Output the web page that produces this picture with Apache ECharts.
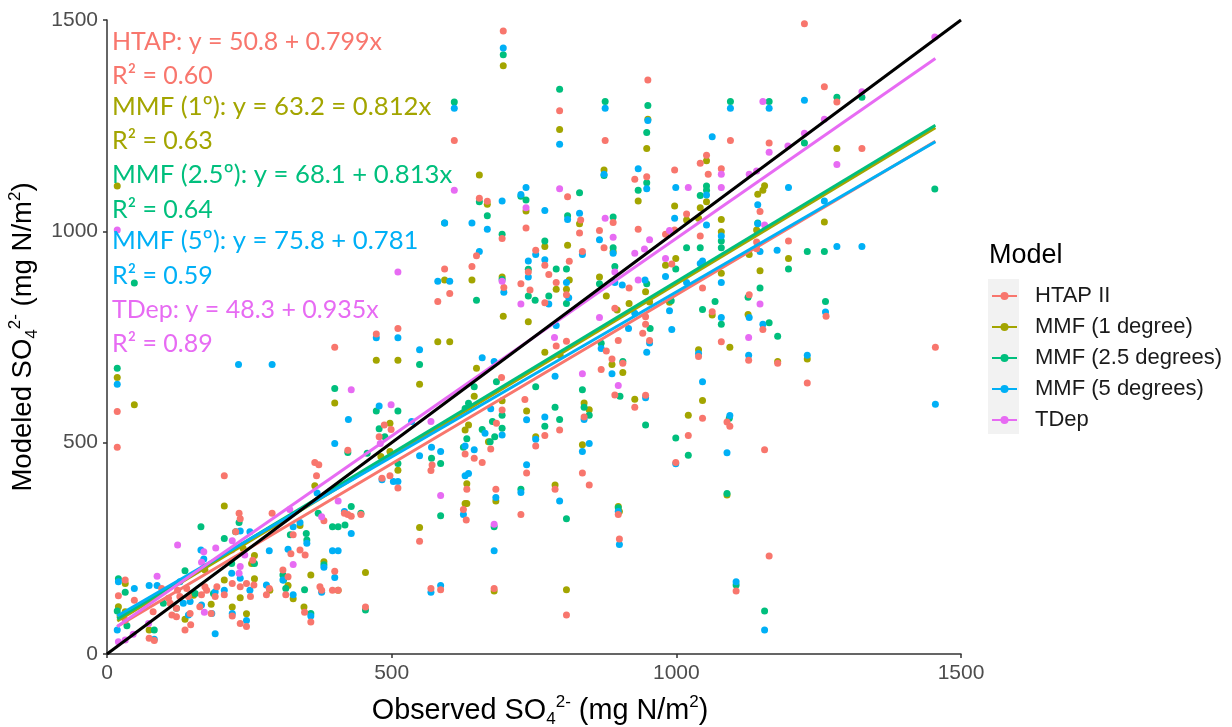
<!DOCTYPE html>
<html>
<head>
<meta charset="utf-8">
<style>html,body{margin:0;padding:0;background:#fff}#c{width:1232px;height:727px}</style>
<script src="https://cdn.jsdelivr.net/npm/echarts@6/dist/echarts.min.js"></script>
</head>
<body>
<div id="c"></div>
<script>
const modelNames = ['HTAP II','MMF (1 degree)','MMF (2.5 degrees)','MMF (5 degrees)','TDep'];
const modelColors = ['#F8766D','#A3A500','#00BF7D','#00B0F6','#E76BF3'];

const htapPoints = [[696,1474],[610,1215],[654,1078],[668,1071],[736,1008],[694,983],[649,942],[641,917],[593,911],[602,853],[581,834],[727,876],[697,867],[740,904],[511,770],[743,861],
[1225,1491],[1260,1342],[1282,1306],[950,1358],[795,1285],[875,1215],[1095,1215],[1163,1209],[1326,1196],[1053,1180],[1042,1161],[997,1145],[1079,1148],[1056,1135],[948,1129],[927,1123],[809,1082],[832,1027],[1018,1041],[889,1021],[933,1005],[865,1002],[830,996],[873,961],[1042,989],[1147,1047],[981,993],[997,1003],[753,955],[835,952],[812,929],[769,920],[992,923],[1197,977],[1141,975],[1141,959],[776,898],[789,879],[917,866],[1046,866],[1128,850],[769,831],[807,850],[892,818],[1063,810],[1263,799],[946,798],[946,780],[1152,768],
[1455,726],[807,740],[789,729],[898,742],[953,742],[1079,739],[941,759],[1127,695],[1178,688],[1039,704],[1230,641],[877,717],[887,698],[906,688],[868,673],[892,613],[946,612],[927,584],[1046,558],[838,561],[1089,549],[1094,539],[1155,483],[769,517],[795,530],[753,492],[835,428],[847,400],[1021,517],[999,453],[787,390],[898,330],[900,272],[1163,232],[1105,149],[807,92],
[473,757],[400,726],[18,574],[18,489],[206,422],[423,482],[487,542],[499,531],[478,514],[365,453],[372,448],[368,422],[734,602],[693,654],[694,577],[684,546],[674,485],[629,473],[645,463],[659,453],[737,428],[683,390],[632,390],[571,447],[569,434],[497,422],[483,416],[511,393],[626,342],[631,317],[727,330],[549,267],[423,330],[429,326],[446,330],[417,333],[381,315],[232,333],[234,320],[226,289],[290,333],[327,282],[339,246],[348,234],[323,237],[256,222],[400,196],[309,199],[318,183],[374,159],[377,151],[396,151],[406,151],[569,155],[586,152],[680,155],[454,111],[285,155],[280,140],[314,140],[258,163],[245,167],[234,159],[220,167],[206,140],[193,159],[172,159],[175,151],[166,140],[124,151],[140,155],[96,155],[32,175],[20,138],[48,127],[111,120],[81,100],[122,108],[114,92],[122,88],[146,96],[147,69],[137,57],[220,90],[234,72],[245,65],[252,136],[347,99],[358,76],[74,37],[83,32],[183,96],[32,80],[190,136],[163,112],[143,136],[128,136],[108,132]];

const mmf1Points = [[696,1392],[654,1133],[18,1107],[668,1064],[736,1048],[641,885],[593,885],[694,892],[696,799],[740,786],
[795,1241],[950,1265],[948,1196],[1282,1196],[1053,1167],[873,1145],[933,1072],[997,1060],[1155,1108],[1152,1097],[1143,1088],[1042,1056],[1053,1070],[1039,1031],[1018,1027],[1079,1028],[1079,999],[1141,1003],[769,964],[809,967],[830,1018],[889,952],[1079,901],[1128,945],[1197,936],[1147,907],[999,936],[981,920],[865,892],[812,885],[789,863],[807,863],[946,857],[877,847],[917,829],[1260,1022],[896,814],[1126,803],[1063,802],[953,833],[988,832],
[1039,720],[1094,726],[1178,692],[1230,698],[769,714],[796,707],[887,685],[906,666],[927,603],[1046,600],[1021,565],[838,594],[847,578],[835,495],[753,514],[787,400],[898,349],[900,337],[1089,376],[807,152],
[473,695],[511,695],[549,638],[581,739],[602,739],[649,676],[645,610],[48,590],[400,594],[18,654],[206,350],[497,546],[635,542],[629,530],[670,502],[629,356],[632,356],[632,403],[683,362],[549,299],[365,398],[339,304],[511,435],[481,467],[497,479],[694,599],[737,575],[254,214],[259,233],[381,218],[358,187],[454,193],[259,178],[206,175],[318,162],[286,151],[406,151],[680,149],[234,133],[183,118],[152,139],[220,111],[346,111],[245,95],[327,131],[20,112],[32,167],[32,100],[74,57],[137,82],[172,199],[239,250],[23,90]];

const mmf25Points = [[696,1418],[610,1306],[654,1070],[668,1037],[727,1083],[736,1074],[694,993],[48,878],[593,1020],[649,837],[694,886],[740,910],[740,847],
[795,1336],[875,1307],[950,1298],[948,1234],[1095,1307],[1163,1307],[1282,1317],[1326,1317],[1225,1209],[1454,1100],[830,1091],[873,1132],[948,1115],[933,1097],[1053,1107],[1042,1085],[1053,1097],[809,1037],[889,1034],[769,977],[889,961],[1018,961],[1042,961],[1079,977],[1079,961],[1230,952],[1260,952],[1197,911],[892,917],[789,911],[807,911],[999,911],[865,876],[948,876],[1143,1020],[1147,866],[1126,844],[776,847],[752,837],[1262,834],[1068,834],[1046,815],[991,836],[1079,780],[1163,784],[954,770],[807,829],
[1178,752],[868,735],[906,692],[753,632],[835,625],[901,610],[787,584],[838,584],[847,565],[795,555],[769,539],[946,542],[999,511],[1021,470],[1093,558],[1089,380],[807,320],[898,346],[1105,163],[1155,102],
[18,676],[400,628],[549,685],[645,632],[684,644],[473,575],[511,575],[478,533],[635,593],[629,581],[632,509],[626,489],[659,531],[677,550],[694,565],[694,534],[681,514],[673,502],[488,514],[457,475],[423,477],[511,451],[570,463],[586,451],[586,327],[429,349],[446,333],[371,333],[396,301],[406,301],[418,305],[165,301],[232,311],[206,273],[226,289],[322,282],[350,285],[351,270],[727,390],[680,301],[137,197],[259,214],[309,187],[381,211],[310,175],[314,155],[347,152],[32,146],[20,178],[18,102],[35,67],[83,57],[358,96],[454,104],[122,108],[155,143],[99,120],[187,143],[219,214]];

const mmf5Points = [[696,1434],[610,1291],[694,1072],[736,1104],[727,1087],[593,1020],[641,1020],[668,1005],[654,952],[581,882],[602,882],[740,930],[697,856],[740,892],
[795,1206],[875,1291],[950,1262],[1063,1224],[1095,1291],[1163,1291],[1225,1310],[933,1148],[873,1135],[948,1101],[999,1104],[1053,1086],[1197,1104],[1260,1072],[1143,1063],[769,1049],[830,1043],[809,1028],[997,1031],[1053,1015],[865,980],[1079,989],[1143,1018],[889,948],[1177,955],[1282,964],[1326,964],[835,945],[769,933],[753,945],[1147,952],[1046,930],[1042,924],[981,893],[945,885],[807,879],[892,879],[905,873],[1079,879],[1018,879],[811,843],[776,828],[927,806],[988,812],[1262,809],[1079,796],[1128,796],[1152,780],[789,777],[992,768],[916,770],
[953,736],[948,714],[868,723],[787,657],[887,663],[1127,707],[1039,711],[1230,707],[1046,644],[946,606],[769,561],[838,555],[1094,564],[1455,591],[753,508],[847,498],[835,479],[1089,476],[999,450],[795,362],[898,337],[900,259],[1105,171],[1155,57],
[18,638],[231,685],[290,685],[549,720],[659,701],[680,692],[473,748],[511,748],[478,587],[424,555],[400,498],[535,550],[549,469],[570,489],[586,479],[629,492],[645,483],[674,580],[737,554],[694,518],[664,522],[737,448],[635,427],[629,422],[483,412],[503,408],[511,408],[683,370],[727,382],[626,330],[429,285],[417,337],[369,381],[327,301],[339,311],[251,289],[234,291],[165,246],[170,225],[285,244],[318,248],[351,262],[396,244],[406,244],[680,244],[381,205],[400,181],[309,175],[280,163],[251,151],[219,191],[234,179],[20,171],[48,155],[74,162],[88,162],[128,171],[206,151],[377,146],[586,162],[569,146],[327,140],[190,147],[146,124],[134,120],[166,116],[220,96],[184,96],[358,90],[245,79],[18,57],[190,48],[83,35],[143,92]];

const tdepPoints = [[610,1097],[18,1003],[511,904],[736,1056],[694,882],[727,828],
[1163,1187],[1152,1307],[1326,1330],[1260,1265],[1225,1232],[1196,1202],[1282,1158],[795,1101],[1021,1104],[1079,1135],[1079,1104],[875,1031],[889,986],[953,980],[988,1002],[944,958],[927,948],[981,936],[892,904],[933,885],[1147,828],[865,796],[1128,1135],[1141,1143],[1155,1015],[1454,1460],
[786,749],[1127,749],[835,663],[898,635],
[429,625],[499,590],[569,550],[586,375],[406,362],[377,325],[321,342],[680,307],[220,268],[124,258],[191,251],[170,242],[166,217],[327,212],[234,207],[232,191],[88,184],[171,99],[20,29],[32,33],[46,47],[73,72],[219,246],[242,234],[480,498]];

const htapFit = [[18,65],[1455,1213]];
const mmf1Fit = [[18,78],[1455,1245]];
const mmf25Fit = [[18,83],[1455,1251]];
const mmf5Fit = [[18,90],[1455,1212]];
const tdepFit = [[18,65],[1455,1409]];
const identityLine = [[0,0],[1500,1500]];

const annotations = [
 ['HTAP: y = 50.8 + 0.799x', 0],
 ['R² = 0.60', 0],
 ['MMF (1º): y = 63.2 = 0.812x', 1],
 ['R² = 0.63', 1],
 ['MMF (2.5º): y = 68.1 + 0.813x', 2],
 ['R² = 0.64', 2],
 ['MMF (5º): y = 75.8 + 0.781', 3],
 ['R² = 0.59', 3],
 ['TDep: y = 48.3 + 0.935x', 4],
 ['R² = 0.89', 4]
];
const annotationY = [41,75,106,140,174,209,240,275,309,343];

const pointSets = [htapPoints, mmf1Points, mmf25Points, mmf5Points, tdepPoints];
const fitSets = [htapFit, mmf1Fit, mmf25Fit, mmf5Fit, tdepFit];
const pointOrder = [1,2,3,0,4];

const series = [];
fitSets.forEach((d,i)=>series.push({
  type:'line', name:modelNames[i], data:d, z:5+i*0.1,
  symbol:'circle', symbolSize:8, showSymbol:false, silent:true,
  lineStyle:{color:modelColors[i],width:3}, itemStyle:{color:modelColors[i]}
}));
pointOrder.forEach((i,k)=>series.push({
  type:'scatter', name:modelNames[i], data:pointSets[i], z:2+k*0.1,
  symbol:'circle', symbolSize:7, itemStyle:{color:modelColors[i],opacity:1}, silent:true
}));
series.push({type:'line', name:'1:1', data:identityLine, z:6, symbol:'none', lineStyle:{color:'#000',width:3}, silent:true});

const axisFont = 'Liberation Sans';
const makeRich = size => ({
  n:{fontFamily:axisFont,fontSize:size,color:'#000',lineHeight:34},
  sub:{fontFamily:axisFont,fontSize:17,color:'#000',lineHeight:34,verticalAlign:'bottom'},
  sup:{fontFamily:axisFont,fontSize:17,color:'#000',lineHeight:34,verticalAlign:'top'}
});

const graphic = [
  {type:'rect',left:988,top:279,z:-1,shape:{width:31,height:155},style:{fill:'#f2f2f2'}}
];
annotations.forEach((a,i)=>{
  const isMmfEquation = i%2===0 && a[1]>=1 && a[1]<=3;
  graphic.push({
    type:'text',left:112,top:annotationY[i]-12,z:100,
    style:{text:a[0],fill:modelColors[a[1]],font:(isMmfEquation?'25.7':'25')+'px Lato',textVerticalAlign:'top'}
  });
});

const plainNumber = v => String(v);
const chart = echarts.init(document.getElementById('c'),null,{renderer:'canvas'});
chart.setOption({
  animation:false,
  backgroundColor:'#fff',
  grid:{left:107,right:271,top:20,bottom:73,containLabel:false,outerBoundsMode:'none'},
  title:{text:'Model',left:989,top:242,padding:0,textStyle:{fontFamily:axisFont,fontSize:27,fontWeight:'normal',color:'#000'}},
  legend:{
    data:modelNames,left:991,top:285,orient:'vertical',padding:0,itemWidth:25,itemHeight:10,itemGap:9,
    textStyle:{fontFamily:axisFont,fontSize:22,color:'#1a1a1a',padding:[0,0,0,13]},
    selectedMode:false
  },
  xAxis:{
    type:'value',min:0,max:1500,interval:500,
    name:'{n|Observed SO}{sub|4}{sup|2-}{n| (mg N/m}{sup|2}{n|)}',
    nameLocation:'middle',nameGap:40,nameTextStyle:{rich:makeRich(28.8),padding:[0,0,0,12]},
    axisLine:{show:true,lineStyle:{color:'#333',width:1.5}},
    axisTick:{show:true,length:4,lineStyle:{color:'#333',width:1.5}},
    axisLabel:{fontFamily:axisFont,fontSize:21,color:'#4d4d4d',margin:9,showMinLabel:true,showMaxLabel:true,formatter:plainNumber},
    splitLine:{show:false}
  },
  yAxis:{
    type:'value',min:0,max:1500,interval:500,
    name:'{n|Modeled SO}{sub|4}{sup|2-}{n| (mg N/m}{sup|2}{n|)}',
    nameLocation:'middle',nameGap:59,nameTextStyle:{rich:makeRich(27.5)},
    axisLine:{show:true,lineStyle:{color:'#333',width:1.5}},
    axisTick:{show:true,length:4,lineStyle:{color:'#333',width:1.5}},
    axisLabel:{fontFamily:axisFont,fontSize:21,color:'#4d4d4d',margin:9,formatter:plainNumber},
    splitLine:{show:false}
  },
  graphic:graphic,
  series:series
});
</script>
</body>
</html>
